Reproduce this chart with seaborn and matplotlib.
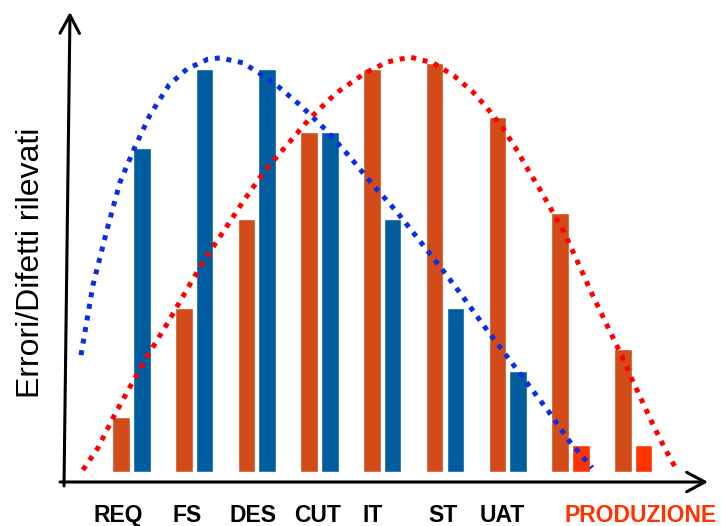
import numpy as np
import pandas as pd
import matplotlib
matplotlib.use("Agg")
import matplotlib.pyplot as plt
import seaborn as sns

# Phases of the lifecycle (PRODUZIONE spans two groups)
fasi = ["REQ", "FS", "DES", "CUT", "IT", "ST", "UAT", "PRODUZIONE 1", "PRODUZIONE 2"]
etichette = ["REQ", "FS", "DES", "CUT", "IT", "ST", "UAT", "PRODUZIONE"]

# Defects detected per phase (orange bars)
rilevati = [13.4, 40.0, 61.7, 83.0, 98.3, 99.8, 86.6, 63.2, 30.0]
# Errors introduced per phase (blue bars)
fasi_introdotti = ["REQ", "FS", "DES", "CUT", "IT", "ST", "UAT"]
introdotti = [79.0, 98.3, 98.3, 83.0, 61.7, 40.0, 24.6]
# Defects escaping into production (red bars)
fasi_produzione = ["PRODUZIONE 1", "PRODUZIONE 2"]
produzione = [6.6, 6.6]

# Trend of introduced errors (blue dotted curve)
trend_introdotti_x = [-0.805, -0.614, -0.392, -0.183, 0.056, 0.295, 0.598, 0.885, 1.220,
                      1.411, 1.778, 2.257, 2.703, 3.102, 3.485, 3.852, 4.234, 4.585,
                      4.936, 5.287, 5.622, 5.973, 6.308, 6.659, 6.994, 7.345]
trend_introdotti_y = [28.5, 45.6, 59.0, 70.7, 79.3, 87.1, 94.4, 98.3, 100.7,
                      101.0, 99.8, 95.1, 89.3, 83.4, 76.8, 70.0, 63.4, 56.6,
                      49.8, 42.7, 35.6, 28.5, 21.7, 14.6, 7.3, 1.0]
# Trend of detected defects (red dotted curve)
trend_rilevati_x = [-0.774, -0.534, -0.295, -0.008, 0.263, 0.566, 0.853, 1.140, 1.459,
                    1.778, 2.097, 2.464, 2.847, 3.262, 3.724, 4.075, 4.442, 4.809,
                    5.144, 5.431, 5.670, 5.909, 6.116, 6.308, 6.499, 6.691, 6.882,
                    7.041, 7.201, 7.360, 7.520, 7.679, 7.839, 7.998, 8.158, 8.317,
                    8.493, 8.668]
trend_rilevati_y = [0.5, 5.9, 13.2, 21.2, 28.5, 36.1, 43.7, 51.2, 58.5,
                    65.9, 72.9, 79.5, 86.3, 92.4, 97.3, 100.0, 101.2, 99.8,
                    96.6, 92.9, 88.8, 84.1, 79.3, 74.1, 69.3, 64.1, 59.0,
                    53.7, 48.3, 42.9, 37.8, 32.7, 27.6, 22.0, 16.8, 11.5,
                    6.1, 1.2]

ARANCIO = "#D24B19"
BLU = "#005DA0"
ROSSO = "#FF3300"
BLU_TREND = "#0A2EE6"
ROSSO_TREND = "#FF0000"

sns.set_style("white")
plt.rcParams["font.family"] = ["Liberation Sans", "DejaVu Sans"]

fig = plt.figure(figsize=(7.21, 5.26), dpi=100)
ax = fig.add_axes([62 / 721, 44 / 526, 646 / 721, 470 / 526])

slots = ["sinistra", "destra"]
df_ril = pd.DataFrame({"fase": fasi, "valore": rilevati, "slot": "sinistra"})
df_int = pd.DataFrame({"fase": fasi_introdotti, "valore": introdotti, "slot": "destra"})
df_prod = pd.DataFrame({"fase": fasi_produzione, "valore": produzione, "slot": "destra"})

common = dict(x="fase", y="valore", hue="slot", order=fasi, hue_order=slots,
              width=0.66, gap=0.15, dodge=True, legend=False, saturation=1,
              errorbar=None, ax=ax)
sns.barplot(data=df_ril, palette={"sinistra": ARANCIO, "destra": ARANCIO}, **common)
sns.barplot(data=df_int, palette={"sinistra": BLU, "destra": BLU}, **common)
sns.barplot(data=df_prod, palette={"sinistra": ROSSO, "destra": ROSSO}, **common)

dotted = (0, (1.0, 1.35))
sns.lineplot(x=trend_introdotti_x, y=trend_introdotti_y, sort=False, estimator=None,
             color=BLU_TREND, linewidth=3.6, linestyle=dotted,
             dash_capstyle="butt", ax=ax)
sns.lineplot(x=trend_rilevati_x, y=trend_rilevati_y, sort=False, estimator=None,
             color=ROSSO_TREND, linewidth=3.6, linestyle=dotted,
             dash_capstyle="butt", ax=ax)

ax.set_xlim(-1.108, 9.193)
ax.set_ylim(-2.44, 112.2)
for s in ax.spines.values():
    s.set_visible(False)
ax.set_yticks([])
ax.set_xlabel("")
ax.set_ylabel("")

# Phase labels under the axis: group index plus a small nudge
gruppo_etichette = [0, 1, 2, 3, 4, 5, 6, 7.5]
spostamento = [-0.215, -0.115, -0.06, -0.025, -0.16, -0.03, -0.08, 0.61]
ax.set_xticks([g + d for g, d in zip(gruppo_etichette, spostamento)], etichette)
ax.tick_params(axis="x", length=0, pad=15.5, labelsize=16.5)
for t in ax.get_xticklabels():
    t.set_fontweight("bold")
    t.set_color(ROSSO if t.get_text() == "PRODUZIONE" else "black")

# Hand-drawn looking axes with open arrow heads
freccia = dict(arrowstyle="->,head_length=0.65,head_width=0.35", lw=2.2,
               color="black", mutation_scale=20, shrinkA=0, shrinkB=0)
fig.add_artist(plt.Annotation("", xy=(70, 514), xytext=(64, 40),
                              xycoords="figure pixels", textcoords="figure pixels",
                              arrowprops=freccia))
fig.add_artist(plt.Annotation("", xy=(708, 44), xytext=(60, 44),
                              xycoords="figure pixels", textcoords="figure pixels",
                              arrowprops=freccia))

fig.text(31 / 721, 1 - 263 / 526, "Errori/Difetti rilevati", rotation=90,
         ha="center", va="center", fontsize=23, color="black")

fig.savefig("out.png", dpi=100)
